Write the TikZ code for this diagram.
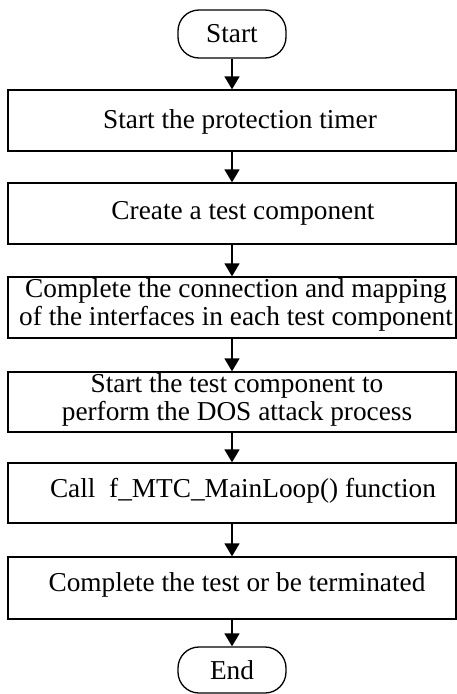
\documentclass[tikz,border=0pt]{standalone}
\usepackage{fontspec}
\setmainfont{Liberation Serif}
\usetikzlibrary{arrows.meta}
\begin{document}
\begin{tikzpicture}[x=1pt,y=-1pt,
  every node/.style={font=\fontsize{27.3}{28}\selectfont, align=center, inner sep=0pt},
  procbox/.style={draw, line width=1.3pt, minimum width=448pt},
  term/.style={draw, line width=1.3pt, rounded corners=21pt, minimum width=108pt},
  arr/.style={line width=1.6pt, -{Triangle[length=13pt,width=15pt]}}]
\useasboundingbox (0,0) rectangle (457,694);
\node[term, minimum height=48pt] (start) at (232,34) {Start};
\node[procbox, minimum height=61pt] (b1) at (232,120.5) {};
\node at (240,122) {Start the protection timer};
\node[procbox, minimum height=61pt] (b2) at (232,213.5) {};
\node at (243,213.5) {Create a test component};
\node[procbox, minimum height=61pt] (b3) at (232,307.5) {};
\node at (236,305) {Complete the connection and mapping\\of the interfaces in each test component};
\node[procbox, minimum height=60pt] (b4) at (232,402) {};
\node at (237,400) {Start the test component to\\perform the DOS attack process};
\node[procbox, minimum height=60pt] (b5) at (232,493) {};
\node at (243,491) {Call\ \ f\_MTC\_MainLoop() function};
\node[procbox, minimum height=62pt] (b6) at (232,588) {};
\node at (237,585) {Complete the test or be terminated};
\node[term, minimum height=46pt] (end) at (232,670) {End};
\draw[arr] (start) -- (b1);
\draw[arr] (b1) -- (b2);
\draw[arr] (b2) -- (b3);
\draw[arr] (b3) -- (b4);
\draw[arr] (b4) -- (b5);
\draw[arr] (b5) -- (b6);
\draw[arr] (b6) -- (end);
\end{tikzpicture}
\end{document}
